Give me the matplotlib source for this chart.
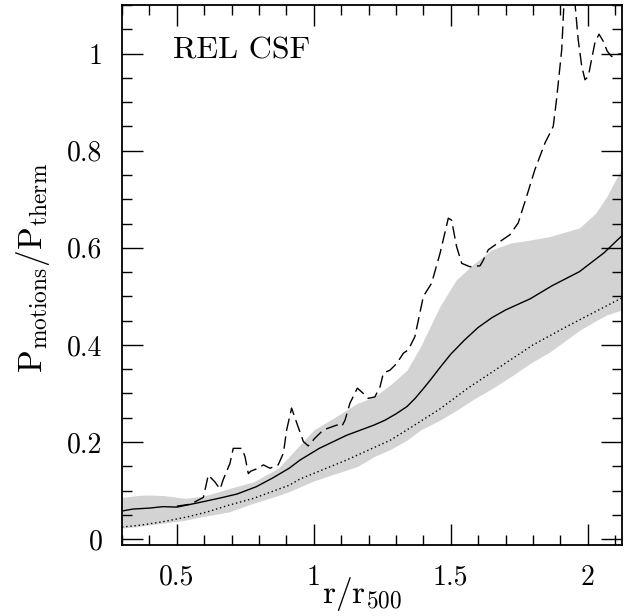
import numpy as np
import matplotlib
matplotlib.use("Agg")
import matplotlib.pyplot as plt
from matplotlib.ticker import MultipleLocator, FuncFormatter

plt.rcParams['font.family'] = 'cmr10'
plt.rcParams['mathtext.fontset'] = 'cm'
plt.rcParams['axes.unicode_minus'] = False

# mean profile
r_mean = [0.30, 0.34, 0.40, 0.45, 0.50, 0.57, 0.66, 0.72, 0.79, 0.85, 0.91, 0.95, 1.02,
          1.12, 1.22, 1.26, 1.30, 1.34, 1.37, 1.40, 1.43, 1.46, 1.50, 1.55, 1.60, 1.65,
          1.70, 1.79, 1.87, 1.97, 2.06, 2.125]
p_mean = [0.058, 0.062, 0.064, 0.067, 0.066, 0.074, 0.085, 0.093, 0.108, 0.126, 0.146, 0.163, 0.187,
          0.214, 0.235, 0.245, 0.258, 0.273, 0.290, 0.310, 0.331, 0.353, 0.381, 0.410, 0.436, 0.456,
          0.472, 0.495, 0.522, 0.551, 0.590, 0.625]

# scatter band around the mean
r_band = [0.30, 0.36, 0.39, 0.45, 0.53, 0.60, 0.69, 0.78, 0.87, 0.91, 1.00, 1.08, 1.16,
          1.22, 1.28, 1.34, 1.39, 1.46, 1.52, 1.58, 1.65, 1.72, 1.79, 1.86, 1.97, 2.03, 2.07, 2.125]
band_hi = [0.086, 0.090, 0.091, 0.090, 0.084, 0.089, 0.104, 0.118, 0.146, 0.170, 0.225, 0.252, 0.280,
           0.293, 0.318, 0.348, 0.397, 0.479, 0.534, 0.565, 0.596, 0.610, 0.616, 0.623, 0.641, 0.672, 0.706, 0.765]
band_lo = [0.023, 0.026, 0.029, 0.033, 0.039, 0.047, 0.056, 0.074, 0.090, 0.098, 0.120, 0.135, 0.150,
           0.170, 0.185, 0.204, 0.225, 0.245, 0.265, 0.287, 0.310, 0.335, 0.362, 0.385, 0.430, 0.450, 0.462, 0.472]

# reference (dotted) profile
r_ref = [0.30, 0.37, 0.45, 0.54, 0.61, 0.69, 0.78, 0.91, 0.95, 1.12, 1.28, 1.36, 1.46, 1.56,
         1.68, 1.80, 1.92, 2.05, 2.125]
p_ref = [0.025, 0.029, 0.036, 0.046, 0.056, 0.070, 0.084, 0.111, 0.124, 0.163, 0.204, 0.232, 0.268, 0.31,
         0.355, 0.40, 0.437, 0.475, 0.497]

# single object (dashed)
r_obj = [0.50, 0.55, 0.597, 0.615, 0.639, 0.658, 0.669, 0.694, 0.706, 0.737, 0.749, 0.761, 0.77,
         0.797, 0.816, 0.84, 0.87, 0.889, 0.901, 0.919, 0.938, 0.962, 0.98, 1.004, 1.035, 1.084,
         1.102, 1.114, 1.132, 1.159, 1.181, 1.199, 1.223, 1.242, 1.254, 1.278, 1.303, 1.327,
         1.345, 1.369, 1.40, 1.43, 1.461, 1.491, 1.503, 1.521, 1.54, 1.57, 1.607, 1.619, 1.637,
         1.68, 1.716, 1.746, 1.777, 1.807, 1.844, 1.862, 1.874, 1.886, 1.905, 1.918, 1.932,
         1.946, 1.965, 1.978, 1.99, 2.002, 2.014, 2.026, 2.041, 2.057, 2.071, 2.087, 2.105, 2.125]
p_obj = [0.068, 0.072, 0.086, 0.132, 0.118, 0.103, 0.122, 0.156, 0.187, 0.187, 0.170, 0.135, 0.140,
         0.146, 0.153, 0.146, 0.153, 0.177, 0.225, 0.270, 0.239, 0.201, 0.192, 0.208, 0.225, 0.235,
         0.232, 0.245, 0.280, 0.311, 0.300, 0.290, 0.293, 0.314, 0.342, 0.348, 0.362, 0.383,
         0.390, 0.417, 0.50, 0.527, 0.589, 0.661, 0.657, 0.603, 0.568, 0.561, 0.563, 0.575, 0.596,
         0.613, 0.627, 0.651, 0.706, 0.761, 0.816, 0.836, 0.850, 0.905, 1.008, 1.16, 1.22,
         1.15, 1.029, 0.974, 0.946, 0.953, 0.988, 1.022, 1.040, 1.025, 1.005, 0.994, 0.998, 1.0]

fig = plt.figure(figsize=(6.29, 6.16), dpi=100)
ax = fig.add_axes([122 / 629, 1 - 545 / 616, 500 / 629, 540 / 616])

ax.fill_between(r_band, band_lo, band_hi, color='#d3d3d3', lw=0)
ax.plot(r_ref, p_ref, color='k', lw=1.0, linestyle=(0, (1, 2)))
ax.plot(r_mean, p_mean, color='k', lw=1.0)
ax.plot(r_obj, p_obj, color='k', lw=1.0, linestyle=(0, (9, 4)))

ax.set_xlim(0.3, 2.125)
ax.set_ylim(-0.012, 1.1)

ax.xaxis.set_major_locator(MultipleLocator(0.5))
ax.xaxis.set_minor_locator(MultipleLocator(0.1))
ax.yaxis.set_major_locator(MultipleLocator(0.2))
ax.yaxis.set_minor_locator(MultipleLocator(0.05))
fmt = FuncFormatter(lambda v, pos: '%g' % round(v, 2))
ax.xaxis.set_major_formatter(fmt)
ax.yaxis.set_major_formatter(fmt)

ax.tick_params(which='both', direction='in', top=True, right=True, width=1.0)
ax.tick_params(which='major', length=15, labelsize=20)
ax.tick_params(which='minor', length=7.5)
ax.tick_params(axis='x', which='major', pad=14)
ax.tick_params(axis='y', which='major', pad=14)
for s in ax.spines.values():
    s.set_linewidth(1.3)

ax.set_xlabel(r'$\mathrm{r}/\mathrm{r}_{\mathsf{500}}$', fontsize=24)
ax.xaxis.set_label_coords(0.48, -0.055)
ax.set_ylabel(r'$\mathrm{P}_{\mathrm{motions}}/\mathrm{P}_{\mathrm{therm}}$', fontsize=24)
ax.yaxis.set_label_coords(-0.14, 0.513)

ax.text(0.486, 1.006, 'REL CSF', fontsize=23, va='center', ha='left')

fig.savefig('out.png', dpi=100)
